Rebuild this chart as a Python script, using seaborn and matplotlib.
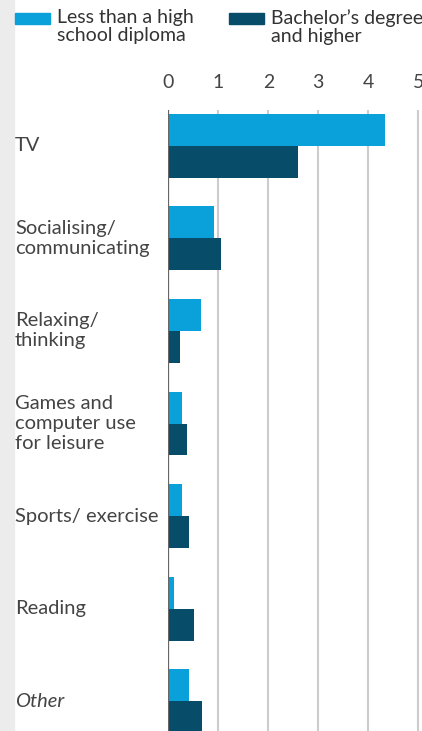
import pandas as pd
import matplotlib.pyplot as plt
import seaborn as sns
from matplotlib.patches import Rectangle
from matplotlib.transforms import blended_transform_factory

# data (hours per day)
activities = ['TV', 'Socialising/\ncommunicating', 'Relaxing/\nthinking',
              'Games and\ncomputer use\nfor leisure', 'Sports/ exercise',
              'Reading', 'Other']
less_than_hs = [4.33, 0.92, 0.65, 0.28, 0.27, 0.12, 0.41]
bachelors = [2.60, 1.05, 0.23, 0.38, 0.41, 0.52, 0.68]
groups = ['Less than a high\nschool diploma', 'Bachelor\u2019s degree\nand higher']
ticks = [0, 1, 2, 3, 4, 5]

df = pd.DataFrame({
    'activity': activities * 2,
    'hours': less_than_hs + bachelors,
    'group': [groups[0]] * len(activities) + [groups[1]] * len(activities),
})

light = '#0aa0da'
dark = '#074c68'

sns.set_style('white')
plt.rcParams['font.family'] = ['Lato', 'DejaVu Sans']

W, H = 422, 731
fig = plt.figure(figsize=(W / 100, H / 100), dpi=100)
ax = fig.add_axes([168.3 / W, 0, 253 / W, (H - 110) / H])

sns.barplot(data=df, y='activity', x='hours', hue='group', order=activities,
            hue_order=groups, palette=[light, dark], saturation=1, width=0.69,
            linewidth=0, ax=ax, legend=False, zorder=3)

ax.set_xlim(0, 5.06)
ax.set_ylim(6.32, -0.385)
ax.set_xticks(ticks)
ax.xaxis.tick_top()
ax.tick_params(axis='x', length=0, pad=14, labelsize=14, labelcolor='#444444')
ax.set_yticks([])
ax.set_xlabel('')
ax.set_ylabel('')
for s in ax.spines.values():
    s.set_visible(False)
ax.grid(axis='x', color='#cccccc', linewidth=1.5, zorder=0)
ax.axvline(0, color='#666666', linewidth=1.6, zorder=4)

# category labels, left aligned
trans = blended_transform_factory(fig.transFigure, ax.transData)
for i, name in enumerate(activities):
    ax.text(15 / W, i, name, transform=trans,
            ha='left', va='center', fontsize=14.5, color='#444444',
            style='italic' if name == 'Other' else 'normal', linespacing=1.2)

# left gray strip
fig.add_artist(Rectangle((0, 0), 14 / W, 1, transform=fig.transFigure,
                         color='#ececec', zorder=0))

# legend
for x0, col, lab in [(15, light, groups[0]), (229, dark, groups[1])]:
    fig.add_artist(Rectangle((x0 / W, 1 - 24 / H), 35 / W, 11 / H,
                             transform=fig.transFigure, color=col))
    fig.text((x0 + 42) / W, 1 - 9 / H, lab, ha='left', va='top',
             fontsize=14, color='#333333', linespacing=1.1)

fig.savefig('out.png', dpi=100)
